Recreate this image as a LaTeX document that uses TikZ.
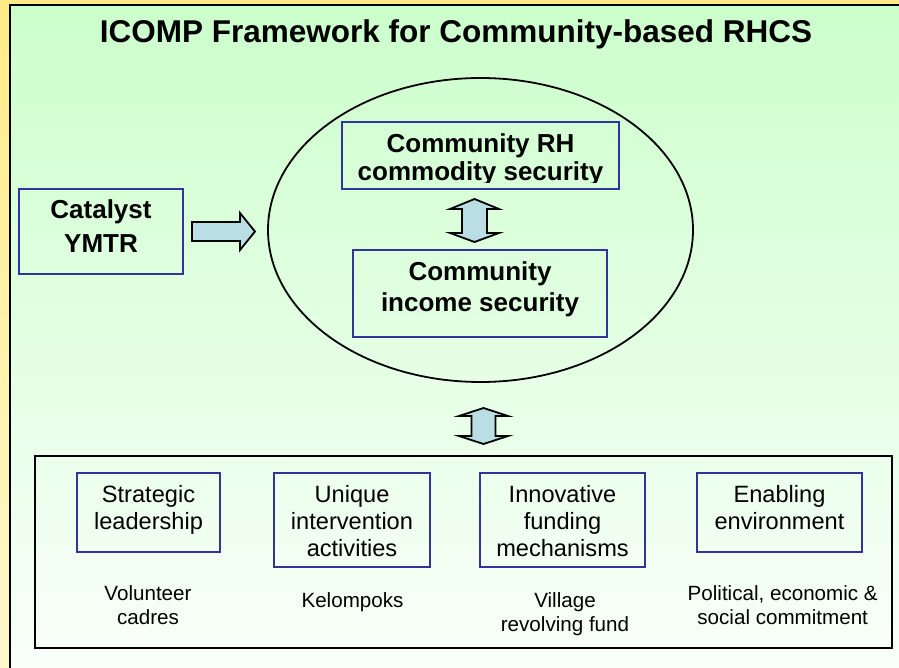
\documentclass[tikz,border=0pt]{standalone}
\usepackage{fontspec}
\setmainfont{Liberation Sans}
\usetikzlibrary{shapes.geometric}
\definecolor{boxblue}{RGB}{51,51,153}
\definecolor{arrowfill}{RGB}{185,222,228}
\definecolor{paneltop}{RGB}{204,255,204}
\definecolor{panelbot}{RGB}{252,255,252}
\definecolor{yeltop}{RGB}{255,236,136}
\definecolor{yelbot}{RGB}{255,248,205}
\begin{document}
\begin{tikzpicture}[x=1pt,y=-1pt,
  bluebox/.style={draw=boxblue, line width=1.6pt, rectangle, inner sep=0pt},
  blockarrow/.style={draw=black, line width=1.8pt, fill=arrowfill, line join=miter},
  boldtext/.style={font=\fontsize{26}{28.5}\selectfont\bfseries, align=center, inner sep=0pt, anchor=north},
  boxtext/.style={font=\fontsize{23.6}{27}\selectfont, align=center, inner sep=0pt, anchor=north},
  labeltext/.style={font=\fontsize{20.6}{24}\selectfont, align=center, inner sep=0pt, anchor=north}]
\useasboundingbox (0,0) rectangle (899,668);
\clip (0,0) rectangle (899,668);
% backgrounds
\shade[top color=yeltop, bottom color=yelbot] (0,0) rectangle (899,668);
\shade[top color=paneltop, bottom color=panelbot] (10,5) rectangle (910,700);
\draw[line width=2pt] (10,700) -- (10,5) -- (910,5);
% title
\node[anchor=base, inner sep=0pt, font=\fontsize{31.5}{36}\selectfont\bfseries] (title) at (456,43) {ICOMP Framework for Community-based RHCS};
% ellipse
\node[draw, ellipse, line width=1.8pt, minimum width=425pt, minimum height=304pt, inner sep=0pt] (ell) at (480.5,230) {};
% catalyst
\node[bluebox, minimum width=164pt, minimum height=85pt] (cat) at (101,231.5) {};
\node[boldtext, font=\fontsize{26}{34}\selectfont\bfseries] (catT) at (101,199.3) {Catalyst\\YMTR};
% RH commodity security (text clipped by its box)
\begin{scope}
  \clip (342,122) rectangle (619,182.5);
  \node[boldtext] (rhT) at (480.5,133.3) {Community RH\\commodity security};
\end{scope}
\node[bluebox, minimum width=277pt, minimum height=67pt] (rh) at (480.5,155.5) {};
% income security
\node[bluebox, minimum width=254pt, minimum height=87pt] (inc) at (480,293.5) {};
\node[boldtext, font=\fontsize{26}{31}\selectfont\bfseries] (incT) at (480,261.3) {Community\\income security};
% block arrows
\filldraw[blockarrow] (192,222) -- (240,222) -- (240,213) -- (255,231.5) -- (240,250) -- (240,241) -- (192,241) -- cycle;
\filldraw[blockarrow] (474.5,199) -- (499,209) -- (487,209) -- (487,233) -- (499,233) -- (474.5,242) -- (450,233) -- (462,233) -- (462,209) -- (450,209) -- cycle;
\filldraw[blockarrow] (483.5,408) -- (508,416) -- (495.5,416) -- (495.5,436) -- (508,436) -- (483.5,444) -- (459,436) -- (471.5,436) -- (471.5,416) -- (459,416) -- cycle;
% bottom frame
\node[draw, line width=2pt, minimum width=857pt, minimum height=192pt, inner sep=0pt] (frame) at (463.5,552) {};
% lower boxes
\node[bluebox, minimum width=143pt, minimum height=79pt] (sl) at (148.5,512.5) {};
\node[boxtext] (slT) at (148.5,485) {Strategic\\leadership};
\node[bluebox, minimum width=156pt, minimum height=94pt] (ui) at (352,520) {};
\node[boxtext] (uiT) at (352,485) {Unique\\intervention\\activities};
\node[bluebox, minimum width=165pt, minimum height=94pt] (ifm) at (562.5,520) {};
\node[boxtext] (ifmT) at (562.5,485) {Innovative\\funding\\mechanisms};
\node[bluebox, minimum width=165pt, minimum height=79pt] (ee) at (779.5,512.5) {};
\node[boxtext] (eeT) at (779.5,485) {Enabling\\environment};
% labels
\node[labeltext] (vc) at (148,585.7) {Volunteer\\cadres};
\node[labeltext] (kel) at (352.5,591.9) {Kelompoks};
\node[labeltext] (vrf) at (565,591.9) {Village\\revolving fund};
\node[labeltext] (pol) at (782.7,585.2) {Political, economic \&\\social commitment};
\end{tikzpicture}
\end{document}
